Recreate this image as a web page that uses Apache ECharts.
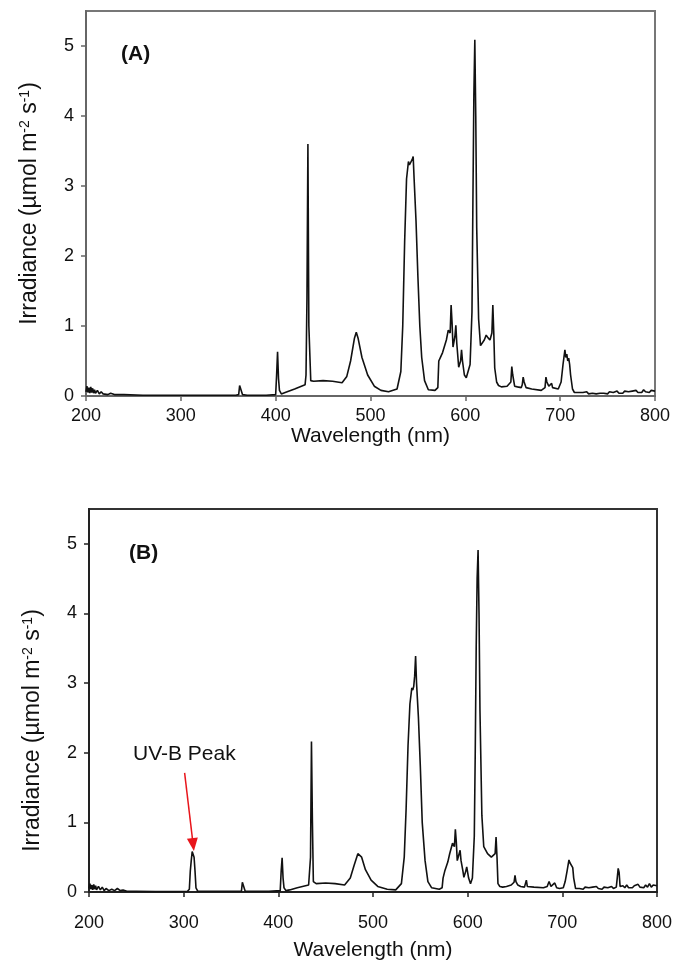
<!DOCTYPE html>
<html>
<head>
<meta charset="utf-8">
<script src="https://cdn.jsdelivr.net/npm/echarts@6/dist/echarts.min.js"></script>
<style>
  html, body { margin: 0; padding: 0; background: #fff; }
  #chart { width: 681px; height: 969px; }
</style>
</head>
<body>
<div id="chart"></div>
<script>
// spectrum (A): wavelength in nm, irradiance in umol m-2 s-1
const waveA = [200,201,202,203,204,205,206,207,208,209,210,212,214,216,218,220,223,226,230,240,260,280,300,330,358,361,362,364,365,370,390,
  400,401,402,403,404,406,410,420,431,432,433,434,435,437,440,450,460,470,475,479,483,485,487,491,497,504,511,519,
  528,532,534,536,538,540,541,543,544,545,546,548,550,552,554,557,561,568,571,572,574,576,578,580,582,584,585,586,587,589,590,591,593,595,596,597,599,601,
  603,605,607,608,609,610,611,612,614,616,618,620,622,624,626,628,629,630,631,633,635,638,644,648,649,650,652,655,659,660,661,662,664,670,
  680,684,685,686,688,690,691,692,694,698,701,703,705,706,707,708,709,710,711,713,715,717,
  720,722,724,726,728,730,732,734,736,738,740,742,744,746,748,750,752,754,756,758,760,762,764,766,768,770,772,774,776,778,780,782,784,786,788,790,792,794,796,798,800];
const irrA = [0.06,0.14,0.05,0.12,0.04,0.13,0.05,0.11,0.04,0.09,0.04,0.08,0.03,0.06,0.03,0.05,0.02,0.04,0.02,0.02,0.01,0.01,0.01,0.01,0.01,0.02,0.15,0.13,0.02,0.01,0.01,
  0.02,0.3,0.63,0.25,0.08,0.03,0.05,0.1,0.16,0.3,1.4,3.6,1.0,0.22,0.21,0.22,0.21,0.19,0.28,0.5,0.82,0.91,0.82,0.55,0.3,0.14,0.08,0.06,
  0.1,0.35,1.0,2.2,3.1,3.35,3.3,3.28,3.38,3.42,3.1,2.5,1.7,1.0,0.55,0.22,0.09,0.08,0.12,0.5,0.56,0.62,0.6,0.8,0.94,0.9,1.3,1.05,0.7,0.85,1.01,0.75,0.41,0.5,0.66,0.5,0.3,0.26,
  0.28,0.45,1.2,2.8,4.3,5.09,4.0,2.4,1.1,0.72,0.7,0.8,0.87,0.83,0.8,0.9,1.3,0.9,0.4,0.2,0.15,0.13,0.14,0.2,0.42,0.3,0.14,0.13,0.12,0.16,0.27,0.2,0.12,0.1,
  0.08,0.12,0.27,0.2,0.14,0.16,0.18,0.12,0.1,0.1,0.2,0.45,0.66,0.55,0.6,0.5,0.54,0.45,0.3,0.1,0.05,0.04,
  0.05,0.03,0.05,0.04,0.06,0.03,0.05,0.04,0.06,0.03,0.05,0.04,0.06,0.04,0.05,0.03,0.06,0.04,0.05,0.04,0.07,0.04,0.06,0.04,0.07,0.05,0.06,0.04,0.07,0.05,0.08,0.05,0.07,0.05,0.09,0.06,0.08,0.05,0.08,0.06,0.07];

// spectrum (B)
const waveB = [200,201,202,203,204,205,206,207,208,210,212,214,216,218,221,224,227,230,233,236,240,250,270,290,304,306,307,308,309,310,311,312,313,315,340,
  361,362,364,365,390,402,403,404,405,406,408,412,420,432,434,435,436,437,440,450,460,470,476,480,484,486,488,492,498,505,515,524,
  530,533,535,537,539,541,542,543,544,545,546,548,550,552,555,558,562,570,573,574,576,579,581,584,586,587,588,589,590,592,593,595,596,598,599,601,603,
  605,607,608,609,610,611,612,613,615,617,619,621,623,625,627,629,630,631,632,634,637,641,646,649,650,651,653,656,660,662,663,665,670,680,
  684,686,688,690,692,694,697,699,701,703,705,707,708,709,710,711,712,714,716,
  718,720,722,724,726,728,730,732,734,736,738,740,742,744,746,748,750,752,754,756,757,758,759,760,761,762,764,766,768,770,772,774,776,778,780,782,784,786,788,790,792,794,796,798,800];
const irrB = [0.05,0.12,0.04,0.1,0.03,0.11,0.04,0.09,0.03,0.08,0.03,0.07,0.02,0.05,0.02,0.04,0.02,0.05,0.02,0.03,0.01,0.01,0.005,0.005,0.01,0.04,0.3,0.45,0.58,0.6,0.5,0.3,0.06,0.01,0.01,
  0.01,0.14,0.12,0.01,0.01,0.02,0.3,0.49,0.2,0.06,0.02,0.03,0.06,0.1,0.5,2.16,1.0,0.15,0.12,0.13,0.12,0.1,0.2,0.38,0.55,0.57,0.5,0.32,0.17,0.08,0.04,0.03,
  0.12,0.5,1.2,2.1,2.7,2.93,2.9,2.95,3.1,3.39,3.0,2.5,1.8,1.0,0.45,0.15,0.06,0.04,0.06,0.2,0.31,0.43,0.55,0.7,0.65,0.9,0.72,0.45,0.5,0.6,0.45,0.3,0.21,0.3,0.36,0.2,0.12,
  0.2,0.8,2.0,3.5,4.5,4.91,4.0,2.6,1.1,0.65,0.6,0.55,0.53,0.5,0.48,0.55,0.79,0.5,0.12,0.08,0.07,0.08,0.1,0.14,0.24,0.15,0.1,0.08,0.07,0.17,0.08,0.07,0.07,0.06,
  0.08,0.15,0.08,0.06,0.13,0.06,0.05,0.03,0.06,0.15,0.3,0.46,0.42,0.44,0.4,0.35,0.2,0.05,0.04,
  0.05,0.06,0.04,0.07,0.05,0.06,0.04,0.07,0.05,0.08,0.05,0.06,0.04,0.07,0.05,0.06,0.05,0.08,0.05,0.05,0.07,0.2,0.34,0.28,0.08,0.06,0.09,0.06,0.1,0.06,0.08,0.06,0.09,0.07,0.11,0.07,0.09,0.06,0.1,0.07,0.12,0.07,0.1,0.08,0.09];

const xTicks = [200, 300, 400, 500, 600, 700, 800];
const yTicks = [0, 1, 2, 3, 4, 5];

// UV-B annotation arrow, in data units of plot (B)
const uvbArrowFrom = [301, 1.71];
const uvbArrowTo = [310, 0.68];

const FONT = '"Liberation Sans", Arial, Helvetica, sans-serif';

function toPairs(xs, ys) {
  return xs.map((x, i) => [x, ys[i]]);
}

function xAxisOf(idx, color) {
  return {
    type: 'value',
    gridIndex: idx,
    min: 200,
    max: 800,
    interval: 100,
    name: 'Wavelength (nm)',
    nameLocation: 'middle',
    nameGap: idx === 0 ? 24 : 48,
    nameTextStyle: { fontFamily: FONT, fontSize: 21, color: '#111' },
    axisLine: { show: true, lineStyle: { color: color, width: 2 } },
    axisTick: { show: true, length: 5, lineStyle: { color: color, width: 1.5 }, customValues: xTicks },
    axisLabel: { fontFamily: FONT, fontSize: 18, color: '#111', margin: idx === 0 ? 11 : 22, customValues: xTicks },
    splitLine: { show: false }
  };
}

function yAxisOf(idx, color) {
  return {
    type: 'value',
    gridIndex: idx,
    min: 0,
    max: 5.5,
    interval: 1,
    name: 'Irradiance (µmol m{sup|-2} s{sup|-1})',
    nameLocation: 'middle',
    nameGap: 44,
    nameTextStyle: {
      fontFamily: FONT, fontSize: 23, color: '#111',
      padding: idx === 0 ? [0, 0, 0, 0] : [0, 60, 0, 0],
      rich: {
        sup: { fontFamily: FONT, fontSize: 14, color: '#111', verticalAlign: 'top', padding: [0, 0, 10, 0] }
      }
    },
    axisLine: { show: true, lineStyle: { color: color, width: 2 } },
    axisTick: { show: true, length: 5, lineStyle: { color: color, width: 1.5 }, customValues: yTicks },
    axisLabel: { fontFamily: FONT, fontSize: 18, color: '#111', margin: 12, customValues: yTicks },
    splitLine: { show: false }
  };
}

const chart = echarts.init(document.getElementById('chart'), null, { renderer: 'canvas' });

chart.setOption({
  animation: false,
  backgroundColor: '#fff',
  grid: [
    { left: 86, top: 11, width: 569, height: 385, show: true, borderColor: '#777', borderWidth: 2, backgroundColor: 'transparent' },
    { left: 89, top: 509, width: 568, height: 383, show: true, borderColor: '#333', borderWidth: 2, backgroundColor: 'transparent' }
  ],
  xAxis: [xAxisOf(0, '#666'), xAxisOf(1, '#222')],
  yAxis: [yAxisOf(0, '#666'), yAxisOf(1, '#222')],
  graphic: [
    { type: 'text', left: 121, top: 44, style: { text: '(A)', fontFamily: FONT, fontSize: 21, fontWeight: 'bold', fill: '#111' } },
    { type: 'text', left: 129, top: 543, style: { text: '(B)', fontFamily: FONT, fontSize: 21, fontWeight: 'bold', fill: '#111' } },
    { type: 'text', left: 133, top: 744, style: { text: 'UV-B Peak', fontFamily: FONT, fontSize: 21, fill: '#111' } }
  ],
  series: [
    {
      type: 'line',
      xAxisIndex: 0,
      yAxisIndex: 0,
      data: toPairs(waveA, irrA),
      showSymbol: false,
      symbol: 'none',
      lineStyle: { color: '#111', width: 1.6 },
      silent: true
    },
    {
      type: 'line',
      xAxisIndex: 1,
      yAxisIndex: 1,
      data: toPairs(waveB, irrB),
      showSymbol: false,
      symbol: 'none',
      lineStyle: { color: '#111', width: 1.6 },
      silent: true,
      markLine: {
        silent: true,
        symbol: ['none', 'triangle'],
        symbolSize: [11, 13],
        label: { show: false },
        lineStyle: { color: '#e8151b', width: 1.5, type: 'solid' },
        data: [[{ coord: uvbArrowFrom }, { coord: uvbArrowTo }]]
      }
    }
  ]
});
</script>
</body>
</html>
